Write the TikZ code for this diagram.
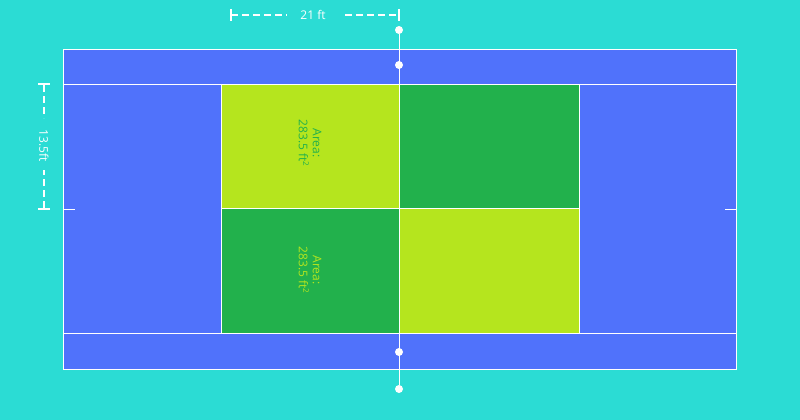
\documentclass[tikz,border=0pt]{standalone}
\usepackage{fontspec}
\setmainfont{Open Sans}
\usetikzlibrary{calc}
\definecolor{teal}{HTML}{2BDCD4}
\definecolor{court}{HTML}{5072FB}
\definecolor{lime}{HTML}{B5E51E}
\definecolor{grass}{HTML}{22B14C}
\tikzstyle{line} = [draw=white, line width=0.8pt]
\tikzstyle{dim} = [white, line width=1.2pt, dash pattern=on 7pt off 4pt]
\tikzstyle{dot} = [circle, fill=white, inner sep=0pt, minimum size=8pt]
\tikzstyle{area} = [rotate=-90, font=\large, align=center, inner sep=0pt]
\begin{document}
\begin{tikzpicture}[x=1pt, y=-1pt]
\useasboundingbox [fill=teal] (0,0) rectangle (800,420);
% court
\fill [court] (63,49) rectangle (736,369);
\fill [lime] (221,84) rectangle (399,208);
\fill [grass] (399,84) rectangle (579,208);
\fill [grass] (221,208) rectangle (399,333);
\fill [lime] (399,208) rectangle (579,333);
\draw [line] (63,49) rectangle (736,369);
\draw [line] (63,84) -- (736,84);
\draw [line] (63,333) -- (736,333);
\draw [line] (221,84) -- (221,333);
\draw [line] (579,84) -- (579,333);
\draw [line] (221,208) -- (579,208);
\draw [line] (63,209) -- (75,209);
\draw [line] (725,209) -- (736,209);
% net
\node (p1) [dot] at (399,30) {};
\node (p2) [dot] at (399,65) {};
\node (p3) [dot] at (399,352) {};
\node (p4) [dot] at (399,389) {};
\draw [line] (p1) -- (p4);
% areas
\node (a1) [area, text=grass] at (310,143) {Area:\\283.5 ft\textsuperscript{2}};
\node (a2) [area, text=lime] at (310,270) {Area:\\283.5 ft\textsuperscript{2}};
% dimensions
\node (w) [white, font=\large] at (313,15) {21 ft};
\draw [dim] (231,15) -- (287,15);
\draw [dim] (396,15) -- (342,15);
\draw [white, line width=1.2pt] (231,9) -- (231,21) (399,9) -- (399,21);
\node (h) [white, rotate=-90, font=\large] at (44,146) {13.5ft};
\draw [dim] (44,85) -- (44,118);
\draw [dim] (44,208) -- (44,170);
\draw [white, line width=1.2pt] (38,84) -- (50,84) (38,209) -- (50,209);
\end{tikzpicture}
\end{document}
